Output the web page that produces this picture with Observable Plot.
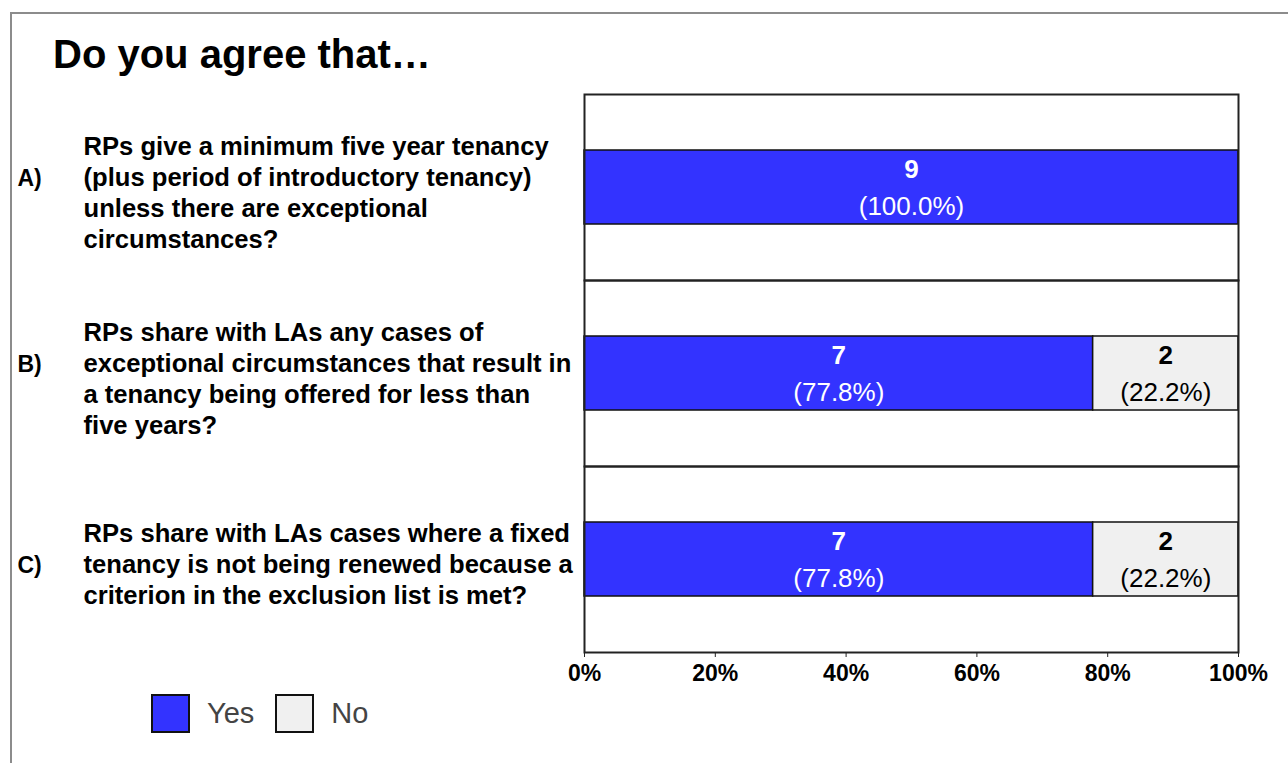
<!DOCTYPE html>
<html>
<head>
<meta charset="utf-8">
<script src="https://cdn.jsdelivr.net/npm/d3@7"></script>
<script src="https://cdn.jsdelivr.net/npm/@observablehq/plot@0.6"></script>
<style>
html, body { margin: 0; padding: 0; background: #fff; }
#wrap { position: relative; width: 1288px; height: 763px; overflow: hidden; font-family: "Liberation Sans", Arial, sans-serif; }
#border { position: absolute; left: 10px; top: 12px; width: 1400px; height: 900px; border: 2px solid #8c8c8c; box-sizing: border-box; }
#title { position: absolute; left: 53px; top: 34px; font-size: 40px; font-weight: bold; color: #000; white-space: nowrap; line-height: 1; }
#chart { position: absolute; left: 0; top: 0; }
#legend { position: absolute; left: 152px; top: 695px; }
.lg-swatch { margin-right: 22px !important; }
.lg-swatch > svg { margin-right: 18px !important; overflow: visible !important; }
.lg-swatch rect { stroke: #111; stroke-width: 2px; }
</style>
</head>
<body>
<div id="wrap">
  <div id="border"></div>
  <div id="chart"></div>
  <div id="title">Do you agree that…</div>
  <div id="legend"></div>
</div>
<script>
// ---- data ----
const questions = ["A", "B", "C"];
const letters = ["A)", "B)", "C)"];
const questionTexts = [
  "RPs give a minimum five year tenancy\n(plus period of introductory tenancy)\nunless there are exceptional\ncircumstances?",
  "RPs share with LAs any cases of\nexceptional circumstances that result in\na tenancy being offered for less than\nfive years?",
  "RPs share with LAs cases where a fixed\ntenancy is not being renewed because a\ncriterion in the exclusion list is met?"
];
const responses = ["Yes", "No"];
const yesCounts = [9, 7, 7];
const noCounts = [0, 2, 2];
const colors = ["#3333ff", "#f0f0f0"];
const xTicks = [0, 0.2, 0.4, 0.6, 0.8, 1];
const xTickLabels = ["0%", "20%", "40%", "60%", "80%", "100%"];

// ---- tables built from the arrays ----
const rows = [];
questions.forEach((q, i) => {
  const total = yesCounts[i] + noCounts[i];
  rows.push({q, response: "Yes", count: yesCounts[i], pct: yesCounts[i] / total});
  rows.push({q, response: "No", count: noCounts[i], pct: noCounts[i] / total});
});
const qRows = questions.map((q, i) => {
  const lines = questionTexts[i].split("\n");
  return {
    q,
    text: questionTexts[i],
    letterText: lines.map((_, j) => (j === 1 ? letters[i] : " ")).join("\n")
  };
});

const FONT = "Liberation Sans, Arial, sans-serif";
const LINE_PX = 31;
const Q_SIZE = 25.6;
const V_SIZE = 26;
const pctFmt = d3.format(".1%");
const stackBase = {x: "pct", y: () => "bar", fy: "q", z: "response", order: responses};

const chart = Plot.plot({
  width: 1288,
  height: 763,
  marginLeft: 584,
  marginRight: 50,
  marginTop: 94,
  marginBottom: 111,
  style: {background: "transparent", fontFamily: FONT, overflow: "visible"},
  x: {domain: [0, 1], axis: null, label: null},
  y: {type: "band", domain: ["bar"], padding: 0.4286, axis: null},
  fy: {domain: questions, padding: 0, axis: null},
  color: {domain: responses, range: colors},
  marks: [
    Plot.barX(rows, Plot.stackX({...stackBase, fill: "response", stroke: "#111", strokeWidth: 1.5})),
    Plot.frame({stroke: "#222", strokeWidth: 2}),
    // value labels
    Plot.text(rows, Plot.filter(d => d.response === "Yes" && d.count > 0,
      Plot.stackX({...stackBase, text: d => String(d.count), fill: "white", fontWeight: "bold", fontSize: V_SIZE, dy: -18}))),
    Plot.text(rows, Plot.filter(d => d.response === "Yes" && d.count > 0,
      Plot.stackX({...stackBase, text: d => "(" + pctFmt(d.pct) + ")", fill: "white", fontSize: V_SIZE, dy: 19}))),
    Plot.text(rows, Plot.filter(d => d.response === "No" && d.count > 0,
      Plot.stackX({...stackBase, text: d => String(d.count), fill: "black", fontWeight: "bold", fontSize: V_SIZE, dy: -18}))),
    Plot.text(rows, Plot.filter(d => d.response === "No" && d.count > 0,
      Plot.stackX({...stackBase, text: d => "(" + pctFmt(d.pct) + ")", fill: "black", fontSize: V_SIZE, dy: 19}))),
    // question labels in the left margin
    Plot.text(qRows, {fy: "q", text: "text", frameAnchor: "left", textAnchor: "start", dx: -501, dy: 4,
      fontSize: Q_SIZE, fontWeight: "bold", lineHeight: LINE_PX / Q_SIZE, fill: "#000"}),
    Plot.text(qRows, {fy: "q", text: "letterText", frameAnchor: "left", textAnchor: "start", dx: -567, dy: 4,
      fontSize: 23, fontWeight: "bold", lineHeight: LINE_PX / 23, fill: "#000"}),
    // x axis
    Plot.axisX({ticks: xTicks, tickFormat: d => xTickLabels[xTicks.indexOf(d)], label: null, fontSize: 23, fontWeight: "bold",
      tickSize: 5, tickPadding: 7, fill: "#000", stroke: "#222"})
  ]
});
document.getElementById("chart").appendChild(chart);

const legend = Plot.legend({
  color: {domain: responses, range: colors},
  legend: "swatches",
  swatchSize: 37,
  className: "lg",
  style: {fontSize: "29px", fontFamily: FONT, color: "#444", margin: "0"}
});
document.getElementById("legend").appendChild(legend);
</script>
</body>
</html>
